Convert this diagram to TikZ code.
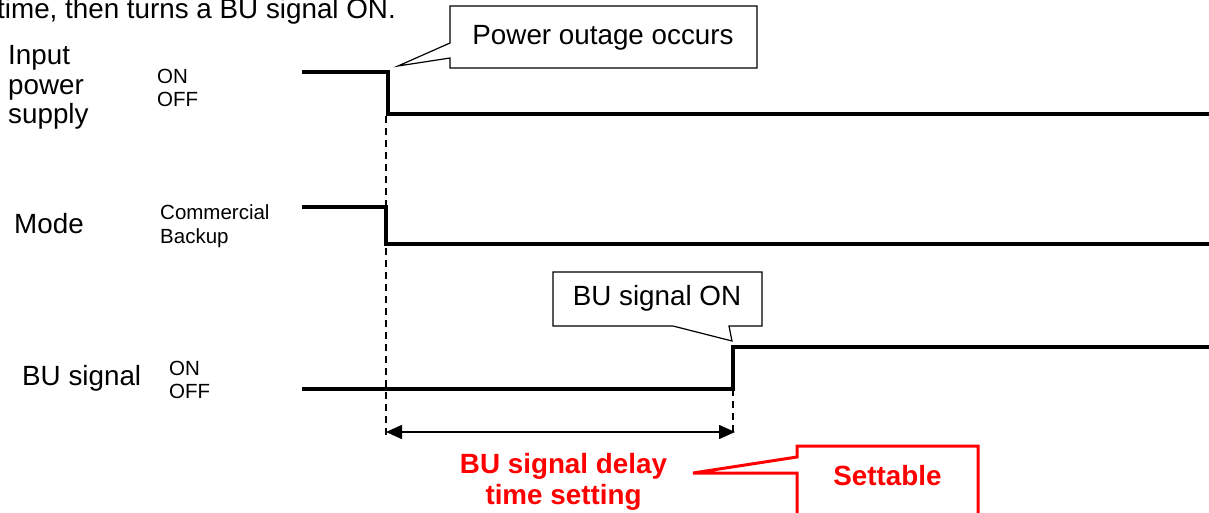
\documentclass[tikz,border=0pt]{standalone}
\usepackage{fontspec}
\setmainfont{Liberation Sans}
\usetikzlibrary{arrows.meta}
\definecolor{sigred}{RGB}{255,0,0}
\begin{document}
\begin{tikzpicture}[x=1pt,y=-1pt,
  big/.style={inner sep=0pt,anchor=base west,font=\fontsize{27.8}{30}\selectfont},
  small/.style={inner sep=0pt,anchor=base west,font=\fontsize{20.5}{23}\selectfont},
  redtxt/.style={inner sep=0pt,anchor=base,text=sigred,font=\fontsize{27.8}{31}\selectfont\bfseries},
  wave/.style={line width=3.5pt,line join=miter},
  guide/.style={line width=1.4pt,dash pattern=on 7pt off 5pt},
  callout/.style={draw=black,line width=1.2pt,fill=white,line join=miter},
  redcallout/.style={draw=sigred,line width=3pt,fill=white,line join=miter}]
\useasboundingbox (0,0) rectangle (1209,513);
\clip (0,0) rectangle (1209,513);
% heading fragment
\node[big] (head) at (-3,19) {time, then turns a BU signal ON.};
% left labels
\node[big] (in1) at (8,65) {Input};
\node[big] (in2) at (8,95) {power};
\node[big] (in3) at (8,124) {supply};
\node[small] (inon) at (157,84) {ON};
\node[small] (inoff) at (157,107) {OFF};
\node[big] (mode) at (14,233) {Mode};
\node[small] (com) at (160,219) {Commercial};
\node[small] (bak) at (160,243) {Backup};
\node[big] (bu) at (22,385) {BU signal};
\node[small] (buon) at (169,375) {ON};
\node[small] (buoff) at (169,398) {OFF};
% key coordinates
\coordinate (t1) at (386,116);
\coordinate (t1b) at (386,437);
\coordinate (t2) at (733,389);
\coordinate (t2b) at (733,437);
\coordinate (a1) at (386,432);
\coordinate (a2) at (735,432);
% dashed guides
\draw[guide] (t1) -- (t1b);
\draw[guide] (t2) -- (t2b);
% waveforms
\draw[wave] (302,72) -- (388,72) -- (388,114) -- (1215,114);
\draw[wave] (302,207) -- (386,207) -- (386,244) -- (1215,244);
\draw[wave] (302,389) -- (t2) -- (733,347) -- (1215,347);
% delay arrow
\draw[line width=1.5pt,{Triangle[length=16pt,width=14pt]}-{Triangle[length=16pt,width=14pt]}] (a1) -- (a2);
% callout: power outage
\draw[callout] (450,6) -- (757,6) -- (757,68) -- (450,68) -- (450,58) -- (398,66) -- (450,43) -- cycle;
\node[big,anchor=base] (po) at (603,45) {Power outage occurs};
% callout: BU signal ON
\draw[callout] (553,272) -- (762,272) -- (762,326) -- (729,326) -- (732,341) -- (673,326) -- (553,326) -- cycle;
\node[big,anchor=base] (buonc) at (657,305) {BU signal ON};
% red texts
\node[redtxt] (d1) at (563.5,473) {BU signal delay};
\node[redtxt] (d2) at (563.5,504) {time setting};
% red callout
\draw[redcallout] (797,530) -- (797,473) -- (693,473) -- (797,457) -- (797,446) -- (978,446) -- (978,530);
\node[redtxt] (set) at (887.5,485) {Settable};
\end{tikzpicture}
\end{document}
